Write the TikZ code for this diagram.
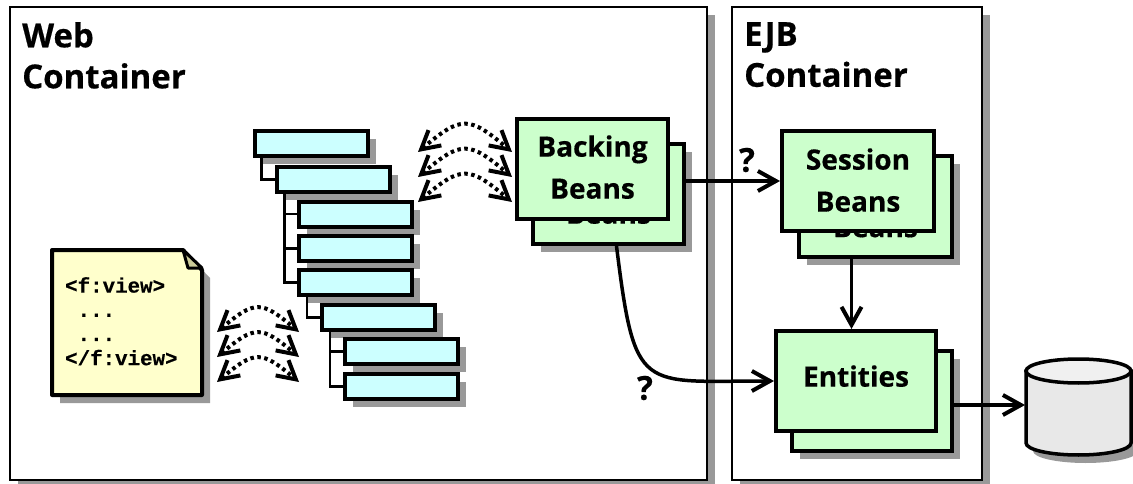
\documentclass[tikz,border=0pt]{standalone}
\usepackage{fontspec}
\setmainfont{Open Sans}[BoldFeatures={FakeBold=0.5}]
\newfontfamily\codefont{Liberation Mono}[BoldFeatures={FakeBold=0.5}]
\usetikzlibrary{arrows.meta,shadows}
\definecolor{shadowgray}{HTML}{999999}
\definecolor{beangreen}{HTML}{CCFFCC}
\definecolor{treecyan}{HTML}{CCFFFF}
\definecolor{pageyellow}{HTML}{FFFFCC}
\definecolor{foldgray}{HTML}{CCCC99}
\definecolor{dbgray}{HTML}{E8E8E8}
\definecolor{dbtop}{HTML}{F0F0F0}
\tikzset{>={Straight Barb[length=18pt,width=20pt,line width=4pt]}}
\tikzset{
  boxshadow/.style={drop shadow={shadow xshift=8pt,shadow yshift=-8pt,fill=shadowgray,opacity=1}},
  containerbox/.style={draw,fill=white,line width=2.8pt,boxshadow,inner sep=0pt},
  treebox/.style={draw,fill=treecyan,line width=4pt,boxshadow,minimum width=113pt,minimum height=25pt,inner sep=0pt},
  beanbox/.style={draw,fill=beangreen,line width=4pt,minimum width=151pt,minimum height=100pt,inner sep=0pt,align=center,font=\fontsize{28}{42}\selectfont\bfseries},
  titletext/.style={anchor=north west,align=left,inner sep=0pt,font=\fontsize{33}{41}\selectfont\bfseries},
  marktext/.style={inner sep=0pt,font=\fontsize{33}{33}\selectfont\bfseries},
  dotarc/.style={<->,line width=4pt,dash pattern=on 3.5pt off 3.5pt,out=40,in=140,looseness=1.55},
  solidarrow/.style={->,line width=3.5pt},
  treeline/.style={line width=2.5pt}
}
\begin{document}
\begin{tikzpicture}[x=1pt,y=-1pt]
  \useasboundingbox (0,0) rectangle (1133,484);
  % containers
  \node[containerbox,minimum width=697pt,minimum height=473pt] (web) at (358.5,243.5) {};
  \node[containerbox,minimum width=250pt,minimum height=473pt] (ejb) at (857,243.5) {};
  \node[titletext] (webtitle) at (22,22) {Web\\Container};
  \node[titletext] (ejbtitle) at (744,22) {EJB\\Container};
  % page
  \fill[shadowgray] (60,258) -- (191,258) -- (210,278) -- (210,403) -- (60,403) -- cycle;
  \draw[line width=4pt,line join=round,fill=pageyellow] (52,250) -- (183,250) -- (202,270) -- (202,395) -- (52,395) -- cycle;
  \draw[line width=3pt,line join=round,fill=foldgray] (183,250) -- (188,268) -- (202,268) -- cycle;
  \node[anchor=north west,align=left,inner sep=0pt,font=\codefont\bfseries\fontsize{20.8}{24.2}\selectfont] (pagetext) at (65,277) {<f:view>\\\ ...\\\ ...\\</f:view>};
  % tree
  \node[treebox] (tree1) at (311,144) {};
  \node[treebox] (tree2) at (333,179.5) {};
  \node[treebox] (tree3) at (355.5,214) {};
  \node[treebox] (tree4) at (355.5,248.5) {};
  \node[treebox] (tree5) at (355.5,282.5) {};
  \node[treebox] (tree6) at (378.5,317.5) {};
  \node[treebox] (tree7) at (401.5,351.5) {};
  \node[treebox] (tree8) at (401.5,386.5) {};
  \draw[treeline] ([xshift=9pt]tree1.south west) |- (tree2.west);
  \draw[treeline] ([xshift=10pt]tree2.south west) |- (tree3.west);
  \draw[treeline] ([xshift=10pt]tree2.south west) |- (tree4.west);
  \draw[treeline] ([xshift=10pt]tree2.south west) |- (tree5.west);
  \draw[treeline] ([xshift=10pt]tree5.south west) |- (tree6.west);
  \draw[treeline] ([xshift=10pt]tree6.south west) |- (tree7.west);
  \draw[treeline] ([xshift=10pt]tree6.south west) |- (tree8.west);
  % beans
  \node[beanbox,boxshadow,text depth=4pt] (backingrear) at (608.5,194) {Backing\\Beans};
  \node[beanbox,text depth=4pt] (backing) at (592.5,169) {Backing\\Beans};
  \node[beanbox,boxshadow,minimum width=153pt,text depth=2pt] (sessionrear) at (875.5,206.5) {Session\\Beans};
  \node[beanbox,minimum width=152pt,text depth=2pt] (session) at (858,181) {Session\\Beans};
  \node[beanbox,boxshadow,minimum width=160pt] (entitiesrear) at (872,401) {};
  \node[beanbox,minimum width=160pt,text depth=10pt] (entities) at (856,381) {Entities};
  % database
  \fill[shadowgray] (1033,379) -- (1033,451) arc[start angle=180,end angle=360,x radius=52.5pt,y radius=12pt] -- (1138,379) -- cycle;
  \draw[line width=3.5pt,fill=dbgray] (1026,371) -- (1026,443) arc[start angle=180,end angle=360,x radius=52.5pt,y radius=12pt] -- (1131,371) -- cycle;
  \draw[line width=3.5pt,fill=dbtop] (1078.5,371) ellipse[x radius=52.5pt,y radius=12pt];
  \coordinate (db) at (1025,405);
  % arcs
  \coordinate (pagearc1) at (217,332);
  \coordinate (pagearc2) at (217,357);
  \coordinate (pagearc3) at (217,382);
  \coordinate (treearc1) at (299,332);
  \coordinate (treearc2) at (299,357);
  \coordinate (treearc3) at (299,382);
  \coordinate (toparc1) at (418,152);
  \coordinate (toparc2) at (418,177);
  \coordinate (toparc3) at (418,202);
  \coordinate (beanarc1) at (512,152);
  \coordinate (beanarc2) at (512,177);
  \coordinate (beanarc3) at (512,202);
  \draw[dotarc] (pagearc1) to (treearc1);
  \draw[dotarc] (pagearc2) to (treearc2);
  \draw[dotarc] (pagearc3) to (treearc3);
  \draw[dotarc] (toparc1) to (beanarc1);
  \draw[dotarc] (toparc2) to (beanarc2);
  \draw[dotarc] (toparc3) to (beanarc3);
  % calls
  \draw[solidarrow] (backingrear.east |- session.west) -- (session.west);
  \draw[solidarrow] ([xshift=-24pt]sessionrear.south) -- ([xshift=-24pt]sessionrear.south |- entities.north);
  \draw[solidarrow] ([xshift=8pt]backingrear.south) .. controls (635,395) and (640,381) .. (entities.west);
  \draw[solidarrow] (entitiesrear.east |- db) -- (db);
  \node[marktext] (mark1) at (747,160) {?};
  \node[marktext] (mark2) at (645,388) {?};
\end{tikzpicture}
\end{document}
